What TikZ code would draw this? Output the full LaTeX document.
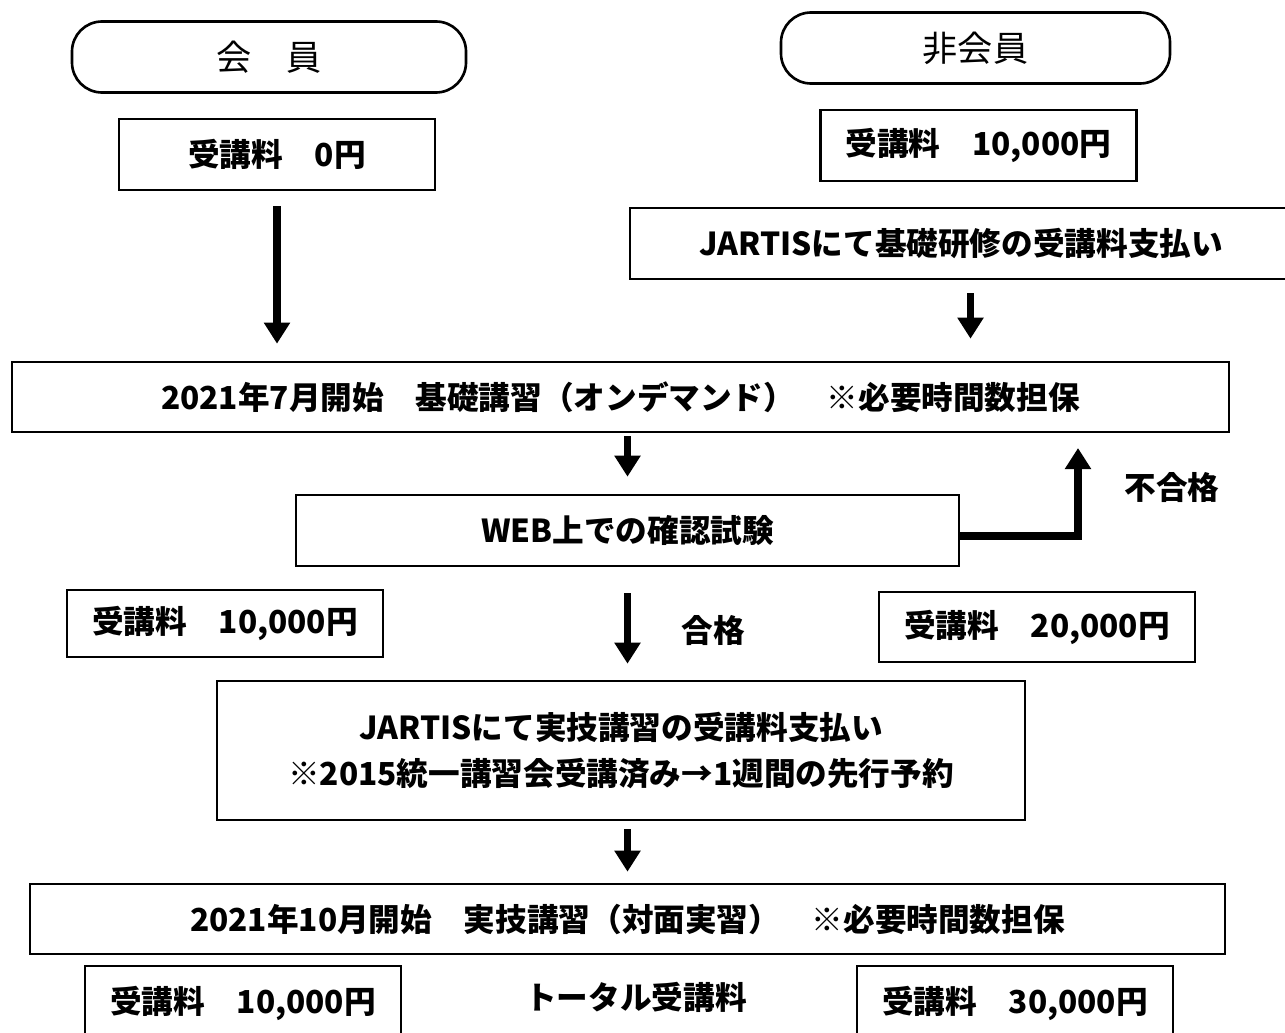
\documentclass[tikz,border=0pt]{standalone}
\usepackage{fontspec}
\setmainfont{Noto Sans CJK JP}
\usetikzlibrary{arrows.meta}

\begin{document}
\begin{tikzpicture}[>={Triangle[width=0.5cm,length=0.42cm]},line width=1.5pt,
    font=\fontsize{18}{26}\selectfont\bfseries,
    box/.style={draw,rectangle,inner sep=0pt,minimum height=1.42cm},
    fee/.style={box,minimum width=6.32cm},
    pill/.style={draw,rounded corners=0.6cm,inner sep=0pt,minimum height=1.42cm,font=\fontsize{20}{24}\selectfont},
    flow/.style={->,line width=4.2pt}]

  \clip (0,0) rectangle (25.7,-20.64);

  \node[pill,minimum width=7.88cm] (mem) at (5.38,-1.14) {会　員};
  \node[pill,minimum width=7.78cm] (nonmem) at (19.51,-0.96) {非会員};
  \node[fee] (fee0) at (5.54,-3.09) {受講料　0円};
  \node[fee] (feeN) at (19.57,-2.91) {受講料　10,000円};
  \node[box,minimum width=13.24cm] (pay1) at (19.22,-4.87) {JARTISにて基礎研修の受講料支払い};
  \node[box,minimum width=24.34cm,minimum height=1.40cm] (kiso) at (12.41,-7.94) {2021年7月開始　基礎講習（オンデマンド）　※必要時間数担保};
  \node[box,minimum width=13.26cm] (web) at (12.55,-10.61) {WEB上での確認試験};
  \node (fail) at (23.44,-9.74) {不合格};
  \node[fee,minimum height=1.34cm] (feeA) at (4.50,-12.47) {受講料　10,000円};
  \node (pass) at (14.26,-12.60) {合格};
  \node[fee,minimum height=1.40cm] (feeB) at (20.74,-12.54) {受講料　20,000円};
  \node[box,minimum width=16.16cm,minimum height=2.78cm,align=center] (pay2) at (12.42,-15.01)
    {JARTISにて実技講習の受講料支払い\\※2015統一講習会受講済み→1週間の先行予約};
  \node[box,minimum width=23.90cm,minimum height=1.40cm] (jitsu) at (12.55,-18.38) {2021年10月開始　実技講習（対面実習）　※必要時間数担保};
  \node[fee,minimum height=1.5cm] (feeC) at (4.86,-20.07) {受講料　10,000円};
  \node (total) at (12.72,-19.94) {トータル受講料};
  \node[fee,minimum height=1.5cm] (feeD) at (20.30,-20.07) {受講料　30,000円};

  \coordinate (back) at (21.56,-8.64);

  \path[flow] (fee0) edge[shorten <=0.3cm,shorten >=0.34cm] (fee0 |- kiso.north)
        ([xshift=-0.1cm]nonmem.south |- pay1.south) edge[shorten <=0.26cm,shorten >=0.44cm] ([xshift=-0.1cm]nonmem.south |- kiso.north)
        (kiso.south -| web.north) edge[shorten <=0.06cm,shorten >=0.34cm] (web.north)
        (web.south) edge[shorten <=0.52cm,shorten >=0.32cm] (web.south |- pay2.north)
        (pay2.south -| web.south) edge[shorten <=0.16cm,shorten >=0.22cm] (web.south |- jitsu.north);
  \draw[flow,shorten >=0.32cm] ([yshift=-0.11cm]web.east) -| (back);

\end{tikzpicture}
\end{document}
